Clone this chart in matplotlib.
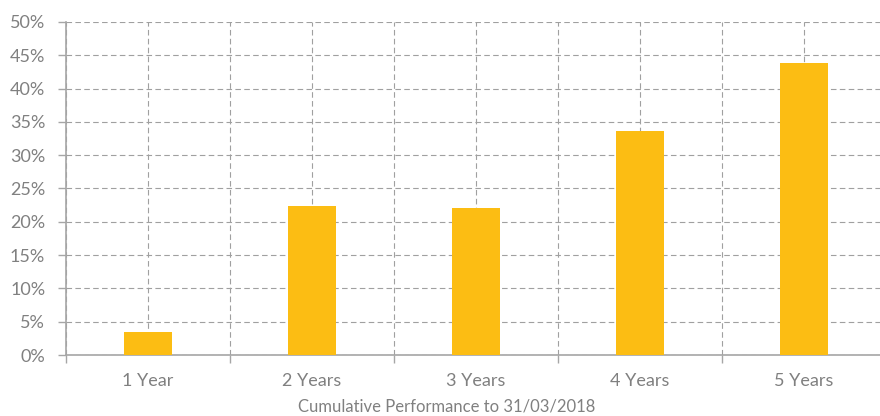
import numpy as np
import matplotlib
matplotlib.use("Agg")
import matplotlib.pyplot as plt
from matplotlib.ticker import FuncFormatter

# data
periods = ["1 Year", "2 Years", "3 Years", "4 Years", "5 Years"]
returns = [3.5, 22.4, 22.1, 33.7, 43.9]
yTicks = [0, 5, 10, 15, 20, 25, 30, 35, 40, 45, 50]
chartTitle = "Cumulative Performance to 31/03/2018"

barColor = "#FCBD13"
textColor = "#808080"
gridColor = "#a0a0a0"
axisColor = "#a6a6a6"

plt.rcParams['font.family'] = ['Lato', 'DejaVu Sans']

fig = plt.figure(figsize=(8.8, 4.16), dpi=100)
ax = fig.add_axes([66 / 880, 61 / 416, 820 / 880, 333 / 416])

xPos = np.arange(len(periods))
ax.bar(xPos, returns, width=0.29, color=barColor, zorder=3)

ax.set_xlim(-0.5, len(periods) - 0.5)
ax.set_ylim(0, 50)

# y axis
ax.set_yticks(yTicks)
ax.yaxis.set_major_formatter(FuncFormatter(lambda v, p: "%d%%" % v))
ax.tick_params(axis='y', length=6, width=1, color=axisColor, pad=9,
               labelsize=13, labelcolor=textColor)

# x axis: boundaries as major ticks, labels on minor ticks at the bar centers
ax.set_xticks(np.arange(-0.5, len(periods), 1.0))
ax.set_xticklabels([])
ax.set_xticks(xPos, minor=True)
ax.set_xticklabels(periods, minor=True)
ax.tick_params(axis='x', which='major', length=6, width=1, color=axisColor)
ax.tick_params(axis='x', which='minor', length=0, pad=13,
               labelsize=13, labelcolor=textColor)

# dashed grid
ax.grid(True, which='major', axis='y', color=gridColor, linestyle=(0, (5, 3)), linewidth=0.8, zorder=0)
ax.grid(True, which='both', axis='x', color=gridColor, linestyle=(0, (5, 3)), linewidth=0.8, zorder=0)
ax.set_axisbelow(True)

ax.spines['top'].set_visible(False)
ax.spines['right'].set_visible(False)
ax.spines['left'].set_color(axisColor)
ax.spines['bottom'].set_color(axisColor)
ax.spines['left'].set_linewidth(1.2)
ax.spines['bottom'].set_linewidth(1.2)

fig.text(447 / 880, 9 / 416, chartTitle, ha='center', va='center',
         fontsize=12, color=textColor)

fig.savefig("out.png", dpi=100)
